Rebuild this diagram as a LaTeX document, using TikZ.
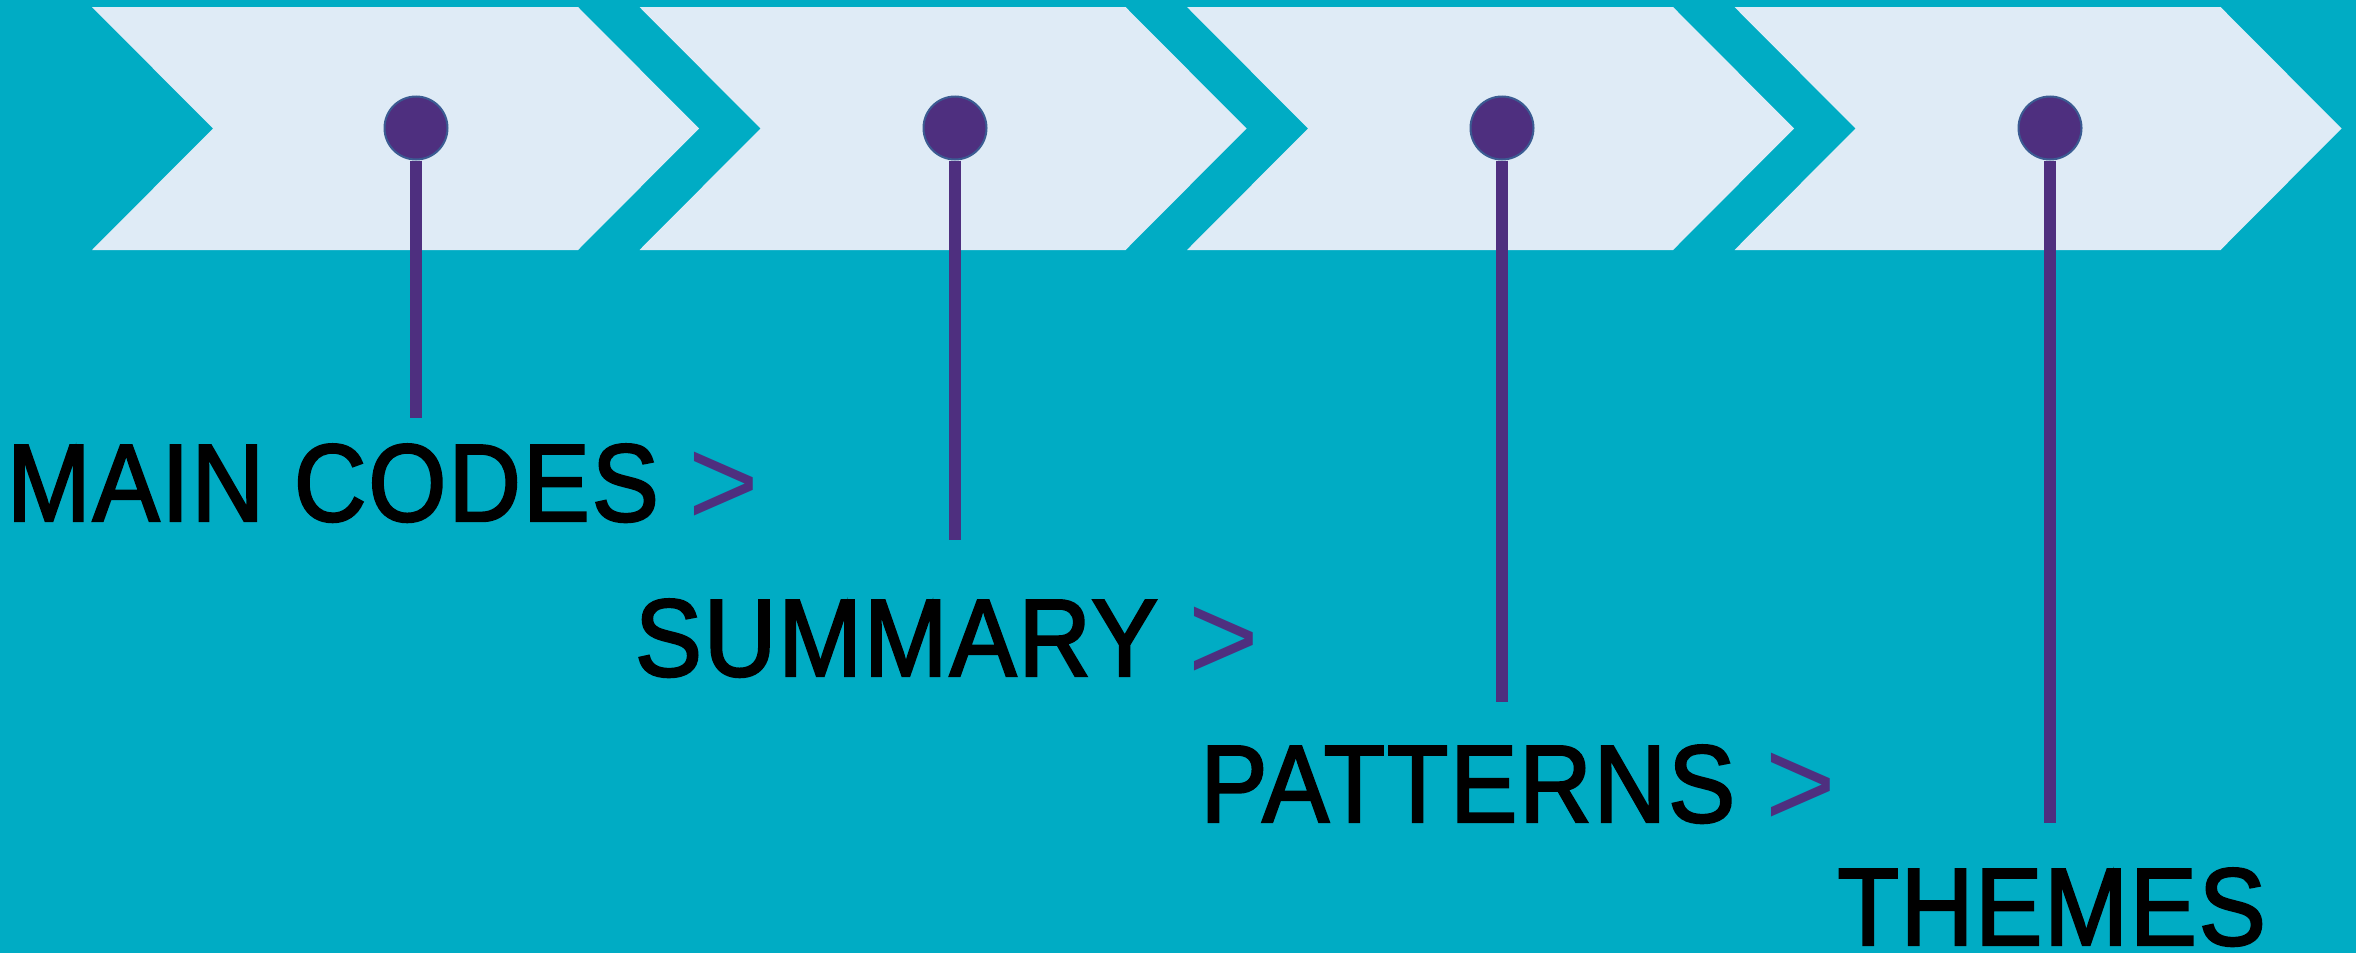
\documentclass[tikz,border=0pt]{standalone}
\usepackage{fontspec}
\setmainfont[FakeStretch=0.91,FakeBold=2.2,LetterSpace=2]{Liberation Sans}
\newfontfamily\arrowfont[FakeStretch=0.96]{Liberation Sans}

\definecolor{sea}{HTML}{00ACC4}
\definecolor{paper}{HTML}{DFEBF6}
\definecolor{pin}{HTML}{4E2F7F}
\definecolor{rim}{HTML}{3B5B92}

\newcommand{\nextmark}{\raisebox{-4pt}{\arrowfont\fontsize{126}{130}\selectfont\textcolor{pin}{>}}}

\begin{document}
\begin{tikzpicture}[x=1pt,y=-1pt,
    chevron/.style={fill=paper},
    stem/.style={draw=pin,line width=12pt},
    label/.style={inner sep=0pt,font=\fontsize{110}{120}\selectfont}]

\fill[sea] (0,0) rectangle (2356,953);
\useasboundingbox (0,0) rectangle (2356,953);

    % the four steps
    \fill[chevron] (92,7) -- ++(486,0) -- ++(121,121.5) -- ++(-121,121.5) -- ++(-486,0) -- ++(121,-121.5) -- cycle;
    \fill[chevron] (639.5,7) -- ++(486,0) -- ++(121,121.5) -- ++(-121,121.5) -- ++(-486,0) -- ++(121,-121.5) -- cycle;
    \fill[chevron] (1187,7) -- ++(486,0) -- ++(121,121.5) -- ++(-121,121.5) -- ++(-486,0) -- ++(121,-121.5) -- cycle;
    \fill[chevron] (1734.5,7) -- ++(486,0) -- ++(121,121.5) -- ++(-121,121.5) -- ++(-486,0) -- ++(121,-121.5) -- cycle;

\begin{scope}[every node/.style={circle,fill=pin,draw=rim,line width=2pt,minimum size=63pt,inner sep=0pt}]
    \node (p1) at (416,128){};
    \node (p2) at (955,128){};
    \node (p3) at (1502,128){};
    \node (p4) at (2050,128){};
\end{scope}

    \coordinate (e1) at (416,418);
    \coordinate (e2) at (955,540);
    \coordinate (e3) at (1502,702);
    \coordinate (e4) at (2050,823);

    \draw[stem] (p1) -- (e1);
    \draw[stem] (p2) -- (e2);
    \draw[stem] (p3) -- (e3);
    \draw[stem] (p4) -- (e4);

    \node[label,anchor=base west] (codes) at (7,521) {MAIN CODES \nextmark};
    \node[label,anchor=base east] (summary) at (1259,676) {SUMMARY \nextmark};
    \node[label,anchor=base east] (patterns) at (1836,822) {PATTERNS \nextmark};
    \node[label,anchor=base east] (themes) at (2266,945) {THEMES};

\end{tikzpicture}
\end{document}
